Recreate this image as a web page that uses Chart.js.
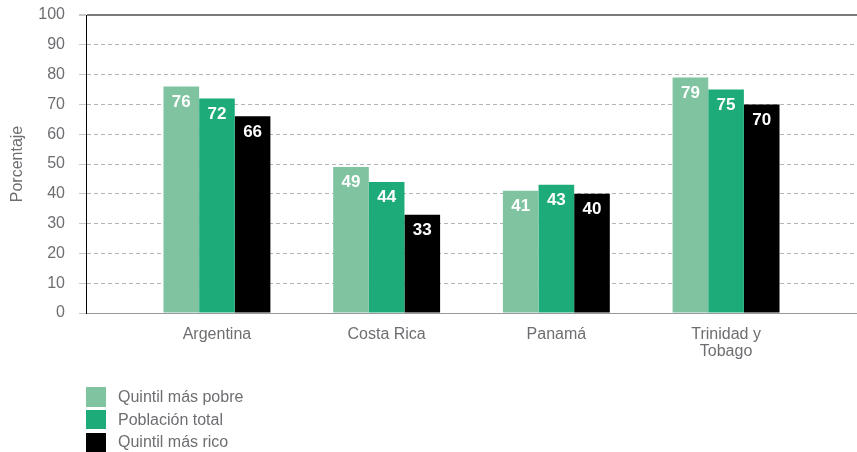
<!DOCTYPE html>
<html lang="es">
<head>
<meta charset="utf-8">
<title>Porcentaje por quintil</title>
<script src="https://cdn.jsdelivr.net/npm/chart.js@4.4.1/dist/chart.umd.min.js"></script>
<style>
  body { margin: 0; background: #fff; }
  #wrap { position: relative; width: 857px; height: 452px; }
  #legend { position: absolute; left: 86px; top: 387px; font-family: 'Liberation Sans', Arial, Helvetica, sans-serif; font-size: 16px; color: #6d6e71; }
  #legend .item { display: flex; align-items: center; height: 19.5px; margin-bottom: 3.3px; }
  #legend .box { width: 19.5px; height: 19.5px; margin-right: 12.5px; }
</style>
</head>
<body>
<div id="wrap">
  <canvas id="quintilChart"></canvas>
  <div id="legend"></div>
</div>
<script>
// Datos
const categories = [['Argentina'], ['Costa Rica'], ['Panamá'], ['Trinidad y', 'Tobago']];
const quintilPobre = [76, 49, 41, 79];
const poblacionTotal = [72, 44, 43, 75];
const quintilRico = [66, 33, 40, 70];
const yTicks = [0, 10, 20, 30, 40, 50, 60, 70, 80, 90, 100];

const FONT = "'Liberation Sans', Arial, Helvetica, sans-serif";
const GRAY = '#6d6e71';

// barras sobre un eje lineal: categoria i en x = i + 1
const toPoints = arr => arr.map((v, i) => ({ x: i + 1, y: v }));

const data = {
    datasets: [
        { label: 'Quintil más pobre', data: toPoints(quintilPobre), backgroundColor: '#7fc3a1' },
        { label: 'Población total', data: toPoints(poblacionTotal), backgroundColor: '#1dab79' },
        { label: 'Quintil más rico', data: toPoints(quintilRico), backgroundColor: '#000000' }
    ]
};

// etiquetas blancas dentro de las barras
const barValues = {
    id: 'barValues',
    afterDatasetsDraw(chart) {
        const ctx = chart.ctx;
        ctx.save();
        ctx.font = 'bold 17px ' + FONT;
        ctx.fillStyle = '#ffffff';
        ctx.textAlign = 'center';
        ctx.textBaseline = 'middle';
        chart.data.datasets.forEach((ds, d) => {
            chart.getDatasetMeta(d).data.forEach((bar, i) => {
                ctx.fillText(ds.data[i].y, bar.x, bar.y + 15.5);
            });
        });
        ctx.restore();
    }
};

// leyenda en columna, abajo a la izquierda
const htmlLegend = {
    id: 'htmlLegend',
    afterUpdate(chart) {
        const box = document.getElementById('legend');
        box.innerHTML = '';
        Chart.defaults.plugins.legend.labels.generateLabels(chart).forEach(item => {
            const row = document.createElement('div');
            row.className = 'item';
            const sw = document.createElement('span');
            sw.className = 'box';
            sw.style.background = item.fillStyle;
            const txt = document.createElement('span');
            txt.textContent = item.text;
            row.appendChild(sw);
            row.appendChild(txt);
            box.appendChild(row);
        });
    }
};

const config = {
    type: 'bar',
    data: data,
    options: {
        responsive: true,
        maintainAspectRatio: false,
        animation: false,
        categoryPercentage: 0.63,
        barPercentage: 1,
        layout: { padding: { top: 15, right: 0, left: 0, bottom: 0 } },
        scales: {
            x: {
                type: 'linear',
                offset: false,
                min: 0.2284,
                max: 4.7716,
                afterBuildTicks: s => { s.ticks = categories.map((c, i) => ({ value: i + 1 })); },
                afterFit: s => { s.height = 139; s.paddingLeft = 0; s.paddingRight = 0; },
                grid: { display: false, drawTicks: false },
                border: { display: true, color: '#999999', width: 1 },
                ticks: {
                    autoSkip: false,
                    maxRotation: 0,
                    padding: 13,
                    color: GRAY,
                    font: { family: FONT, size: 16, lineHeight: 1.05 },
                    callback: v => categories[v - 1]
                }
            },
            y: {
                min: 0,
                max: 100,
                afterBuildTicks: s => { s.ticks = yTicks.map(v => ({ value: v })); },
                afterFit: s => { s.width = 86; s.paddingTop = 0; s.paddingBottom = 0; },
                title: {
                    display: true,
                    text: 'Porcentaje',
                    color: GRAY,
                    font: { family: FONT, size: 16 },
                    padding: { top: 8, bottom: 0 }
                },
                ticks: {
                    padding: 14,
                    color: GRAY,
                    font: { family: FONT, size: 16 }
                },
                grid: {
                    tickLength: 7,
                    tickColor: '#c8c8c8',
                    color: c => c.tick.value === 100 ? '#7a7a7a' : (c.tick.value === 0 ? '#999999' : '#b5b5b5'),
                    lineWidth: c => c.tick.value === 100 ? 2 : 1
                },
                border: {
                    color: '#000000',
                    width: 1,
                    dash: c => (c.tick && c.tick.value > 0 && c.tick.value < 100) ? [4, 3] : []
                }
            }
        },
        plugins: {
            legend: { display: false },
            tooltip: { enabled: false }
        }
    },
    plugins: [barValues, htmlLegend]
};

const ctx = document.getElementById('quintilChart').getContext('2d');
const quintilChart = new Chart(ctx, config);
</script>
</body>
</html>
